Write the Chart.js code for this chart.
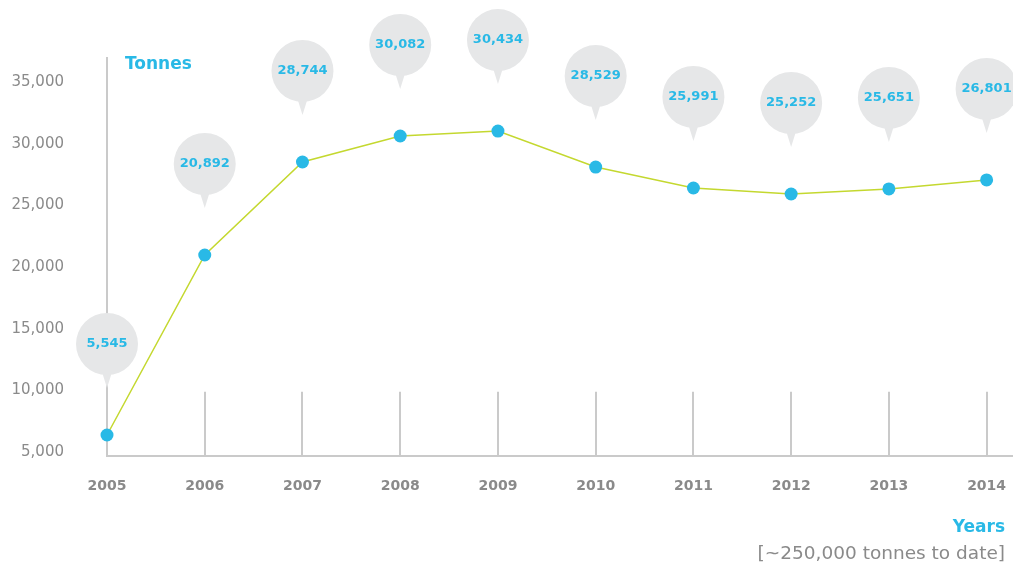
<!DOCTYPE html>
<html><head><meta charset="utf-8">
<script src="https://cdn.jsdelivr.net/npm/chart.js@4"></script>
<style>html,body{margin:0;padding:0;background:#fff}#wrap{width:1013px;height:568px;position:relative}</style>
</head><body><div id="wrap"><canvas id="c" width="1013" height="568"></canvas></div>
<script>
const years = [2005, 2006, 2007, 2008, 2009, 2010, 2011, 2012, 2013, 2014];
const plotted = [6380, 20990, 28540, 30650, 31050, 28130, 26430, 25940, 26350, 27080];
const bubbleLabels = ['5,545', '20,892', '28,744', '30,082', '30,434', '28,529', '25,991', '25,252', '25,651', '26,801'];
const yTicks = [5000, 10000, 15000, 20000, 25000, 30000, 35000];
const yAxisTitle = 'Tonnes';
const xAxisTitle = 'Years';
const note = '[~250,000 tonnes to date]';

const BLUE = '#29b9e6', LINE = '#c4d82f', GREY = '#8a8a8a', AXIS = '#cacaca', BUB = '#e6e7e8';
const FONT = '"DejaVu Sans", sans-serif';

const deco = {
  id: 'deco',
  beforeDatasetsDraw(chart) {
    const ctx = chart.ctx, xs = chart.scales.x, ys = chart.scales.y;
    ctx.save();
    ctx.strokeStyle = AXIS; ctx.lineWidth = 2;
    const top = ys.getPixelForValue(9900), bot = ys.getPixelForValue(ys.min);
    years.slice(1).forEach(yr => {
      const x = Math.round(xs.getPixelForValue(yr));
      ctx.beginPath(); ctx.moveTo(x, top); ctx.lineTo(x, bot); ctx.stroke();
    });
    ctx.restore();
  },
  afterDatasetsDraw(chart) {
    const ctx = chart.ctx;
    const meta = chart.getDatasetMeta(0);
    ctx.save();
    meta.data.forEach((pt, i) => {
      const cx = pt.x, cy = pt.y - 91;
      ctx.fillStyle = BUB;
      ctx.beginPath(); ctx.arc(cx, cy, 31, 0, Math.PI * 2); ctx.fill();
      ctx.beginPath(); ctx.moveTo(cx - 5, cy + 28); ctx.lineTo(cx + 5, cy + 28); ctx.lineTo(cx, cy + 44); ctx.closePath(); ctx.fill();
      ctx.fillStyle = BLUE; ctx.font = 'bold 13px ' + FONT;
      ctx.textAlign = 'center'; ctx.textBaseline = 'middle';
      ctx.fillText(bubbleLabels[i], cx, cy);
    });
    ctx.fillStyle = BLUE; ctx.font = 'bold 17px ' + FONT;
    ctx.textAlign = 'left'; ctx.textBaseline = 'middle';
    ctx.fillText(yAxisTitle, 125, 65);
    ctx.textAlign = 'right';
    ctx.fillText(xAxisTitle, 1005, 528);
    ctx.fillStyle = GREY; ctx.font = '18.5px ' + FONT;
    ctx.fillText(note, 1005, 554);
    ctx.restore();
  }
};

new Chart(document.getElementById('c'), {
  type: 'line',
  data: {
    datasets: [{
      data: years.map((y, i) => ({ x: y, y: plotted[i] })),
      borderColor: LINE, borderWidth: 1.5, clip: false,
      pointBackgroundColor: BLUE, pointBorderColor: BLUE, pointRadius: 6.5, pointBorderWidth: 0,
      tension: 0
    }]
  },
  options: {
    responsive: false, animation: false,
    layout: { autoPadding: false, padding: { left: 0, right: 0, top: 58, bottom: 0 } },
    plugins: { legend: { display: false }, tooltip: { enabled: false } },
    scales: {
      x: {
        type: 'linear', min: 2005, max: 2014.27,
        afterBuildTicks: s => { s.ticks = years.map(v => ({ value: v })); },
        afterFit: s => { s.height = 112; s.paddingLeft = 0; s.paddingRight = 0; },
        grid: { display: false, drawTicks: false, tickLength: 0 },
        border: { display: true, color: AXIS, width: 2 },
        ticks: { padding: 22, color: GREY, font: { family: FONT, size: 14, weight: 'bold' }, callback: v => String(v), maxRotation: 0, autoSkip: false }
      },
      y: {
        min: 4675, max: 36980,
        afterBuildTicks: s => { s.ticks = yTicks.map(v => ({ value: v })); },
        afterFit: s => { s.width = 107; s.paddingTop = 0; s.paddingBottom = 0; },
        grid: { display: false, drawTicks: false, tickLength: 0 },
        border: { display: true, color: AXIS, width: 2 },
        ticks: { padding: 43, color: GREY, font: { family: FONT, size: 15 }, callback: v => v.toLocaleString('en-US') }
      }
    }
  },
  plugins: [deco]
});
</script></body></html>
